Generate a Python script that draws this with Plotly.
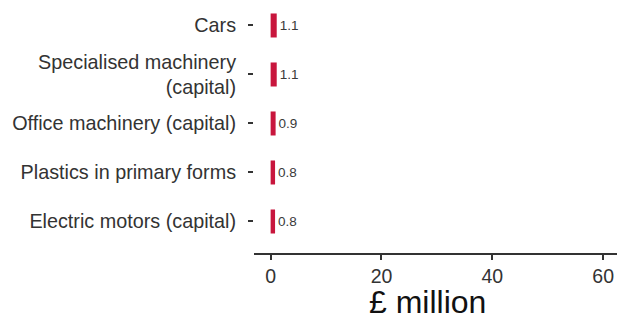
import plotly.graph_objects as go

categories = ["Electric motors (capital)", "Plastics in primary forms",
              "Office machinery (capital)", "Specialised machinery<br>(capital)", "Cars"]
values = [0.8, 0.8, 0.9, 1.1, 1.1]
x_ticks = [0, 20, 40, 60]
x_title = "£ million"

FONT = "Liberation Sans, Arial, Helvetica, sans-serif"

fig = go.Figure(go.Bar(
    x=values, y=categories, orientation="h",
    marker=dict(color="#C8163D", line=dict(width=0)),
    width=0.49,
    text=[f"{v:.1f}" for v in values], textposition="outside",
    textfont=dict(size=13.5, color="#3a3a3a", family=FONT),
    cliponaxis=False,
))

fig.update_layout(
    width=617, height=315,
    margin=dict(l=254, r=0, t=0, b=62),
    paper_bgcolor="white", plot_bgcolor="white",
    font=dict(family=FONT, color="#333333"),
    showlegend=False,
    xaxis=dict(
        range=[-3, 62.5], tickvals=x_ticks, showgrid=False, zeroline=False,
        showline=True, linecolor="#333333", linewidth=2,
        ticks="outside", ticklen=5, tickwidth=1.5, tickcolor="#333333",
        tickfont=dict(size=19.5, color="#333333"),
        automargin=False,
    ),
    yaxis=dict(
        range=[-0.643, 4.52], showgrid=False, zeroline=False, showline=False,
        ticks="outside", ticklen=5, tickwidth=1.5, tickcolor="#333333",
        tickfont=dict(size=19.8, color="#333333"),
        ticklabelstandoff=8,
        automargin=False,
    ),
    annotations=[dict(
        text=x_title, xref="paper", yref="paper", x=0.478, y=-0.195,
        xanchor="center", yanchor="middle", showarrow=False,
        font=dict(size=32, color="#111111", family=FONT),
    )],
)

fig.write_html(
    "out.html",
    config={"displayModeBar": False},
    post_script="document.body.style.margin='0';document.body.style.overflow='hidden';",
)
